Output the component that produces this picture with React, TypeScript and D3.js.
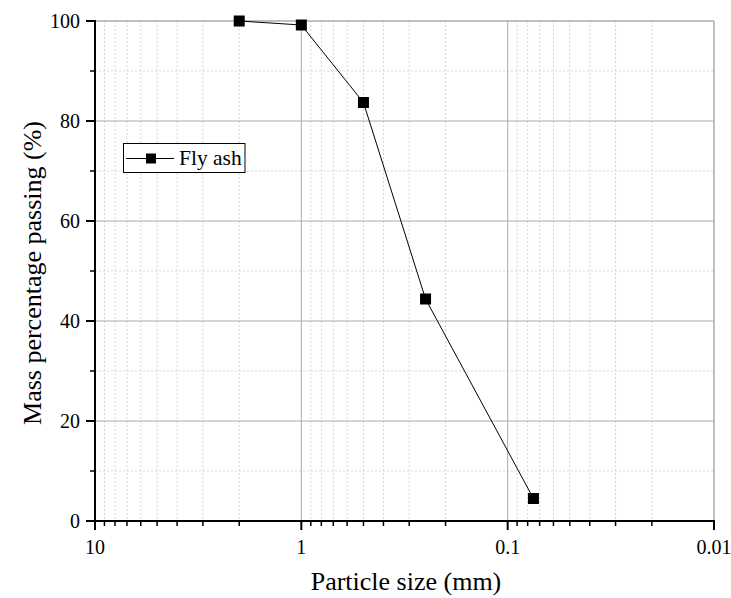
import React from "react";
import * as d3 from "d3";

const sizes = [2, 1, 0.5, 0.25, 0.075];
const passing = [100, 99.2, 83.7, 44.4, 4.5];
const seriesName = "Fly ash";
const xMajorTicks = [10, 1, 0.1, 0.01];
const xTickLabels = ["10", "1", "0.1", "0.01"];
const yMajorTicks = [0, 20, 40, 60, 80, 100];
const yMinorTicks = [10, 30, 50, 70, 90];

const W = 731;
const H = 598;
const L = 95, R = 714, T = 21, B = 521;
const FONT = "Liberation Serif";

export default function App() {
  const x = d3.scaleLog().domain([10, 0.01]).range([L, R]);
  const y = d3.scaleLinear().domain([0, 100]).range([B, T]);

  const xMinor: number[] = [];
  for (const dec of [1, 0.1, 0.01]) {
    for (let k = 2; k <= 9; k++) xMinor.push(dec * k);
  }

  const line = d3
    .line<number>()
    .x((_, i) => x(sizes[i]))
    .y((d) => y(d));

  return (
    <svg width={W} height={H} style={{ position: "absolute", left: 0, top: 0 }}>
      {xMinor.map((v, i) => (
        <line key={"xm" + i} x1={x(v)} x2={x(v)} y1={T} y2={B} stroke="#d4d4d4" strokeWidth={1} strokeDasharray="2,2" />
      ))}
      {yMinorTicks.map((v, i) => (
        <line key={"ym" + i} x1={L} x2={R} y1={y(v)} y2={y(v)} stroke="#d4d4d4" strokeWidth={1} strokeDasharray="2,2" />
      ))}
      {xMajorTicks.map((v, i) => (
        <line key={"xg" + i} x1={x(v)} x2={x(v)} y1={T} y2={B} stroke="#ababab" strokeWidth={1} />
      ))}
      {yMajorTicks.map((v, i) => (
        <line key={"yg" + i} x1={L} x2={R} y1={y(v)} y2={y(v)} stroke="#ababab" strokeWidth={1} />
      ))}
      <line x1={L} x2={R} y1={T} y2={T} stroke="#ababab" strokeWidth={1} />
      <line x1={R} x2={R} y1={T} y2={B} stroke="#ababab" strokeWidth={1} />

      <path d={line(passing) || ""} fill="none" stroke="#000" strokeWidth={1} />
      {passing.map((v, i) => (
        <rect key={"p" + i} x={x(sizes[i]) - 5.5} y={y(v) - 5.5} width={11} height={11} fill="#000" />
      ))}

      <line x1={L} x2={L} y1={T - 1} y2={B + 1} stroke="#000" strokeWidth={2} />
      <line x1={L - 1} x2={R + 1} y1={B} y2={B} stroke="#000" strokeWidth={2} />
      {xMajorTicks.map((v, i) => (
        <line key={"xt" + i} x1={x(v)} x2={x(v)} y1={B} y2={B + 9} stroke="#000" strokeWidth={2} />
      ))}
      {xMinor.map((v, i) => (
        <line key={"xmt" + i} x1={x(v)} x2={x(v)} y1={B} y2={B + 5} stroke="#000" strokeWidth={1.5} />
      ))}
      {yMajorTicks.map((v, i) => (
        <line key={"yt" + i} x1={L - 9} x2={L} y1={y(v)} y2={y(v)} stroke="#000" strokeWidth={2} />
      ))}
      {yMinorTicks.map((v, i) => (
        <line key={"ymt" + i} x1={L - 5} x2={L} y1={y(v)} y2={y(v)} stroke="#000" strokeWidth={1.5} />
      ))}
      <g fontFamily={FONT} style={{ fontFamily: FONT }}>
        {xMajorTicks.map((v, i) => (
          <text key={"xl" + i} x={x(v)} y={B + 33} textAnchor="middle" fontSize={20} fontFamily={FONT}>
            {xTickLabels[i]}
          </text>
        ))}
        {yMajorTicks.map((v, i) => (
          <text key={"yl" + i} x={L - 15} y={y(v) + 6.5} textAnchor="end" fontSize={20} fontFamily={FONT}>
            {v}
          </text>
        ))}

        <text x={406} y={590} textAnchor="middle" fontSize={26} fontFamily={FONT}>
          Particle size (mm)
        </text>
        <text
          transform={`translate(41, 273) rotate(-90)`}
          textAnchor="middle"
          fontSize={26}
          fontFamily={FONT}
        >
          Mass percentage passing (%)
        </text>
      </g>

      <rect x={123.5} y={143.5} width={121.5} height={29} fill="#fff" stroke="#000" strokeWidth={1} />
      <line x1={126} x2={174} y1={158.5} y2={158.5} stroke="#000" strokeWidth={1} />
      <rect x={146} y={153.5} width={10} height={10} fill="#000" />
      <text x={179} y={165} fontSize={21.5} fontFamily={FONT} style={{ fontFamily: FONT }}>
        {seriesName}
      </text>
    </svg>
  );
}
